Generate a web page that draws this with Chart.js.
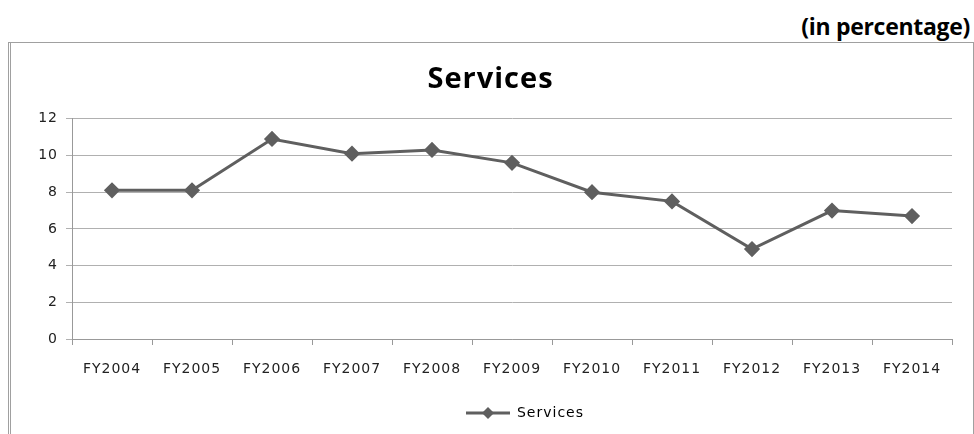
<!DOCTYPE html>
<html>
<head>
<meta charset="utf-8">
<script src="https://cdn.jsdelivr.net/npm/chart.js@4/dist/chart.umd.min.js"></script>
<style>
  body { margin: 0; background: #fff; width: 974px; height: 434px; position: relative; overflow: hidden; }
  #unit { position: absolute; right: 4px; top: 10px; font: bold 23px "Open Sans", sans-serif; letter-spacing: -0.3px; color: #000; }
  #box { position: absolute; left: 8px; top: 42px; width: 962px; height: 400px; border: 1px solid #a0a0a0; border-left: 3px double #a0a0a0; }
  #wrap { position: absolute; left: 0; top: 0; width: 962px; height: 391px; }
</style>
</head>
<body>
<div id="unit">(in percentage)</div>
<div id="box"><div id="wrap"><canvas id="servicesChart"></canvas></div></div>
<script>
const years = ["FY2004", "FY2005", "FY2006", "FY2007", "FY2008", "FY2009", "FY2010", "FY2011", "FY2012", "FY2013", "FY2014"];
const services = [8.1, 8.1, 10.9, 10.1, 10.3, 9.6, 8.0, 7.5, 4.9, 7.0, 6.7];
const yTicks = [0, 2, 4, 6, 8, 10, 12];

const lineColor = "#5f5f5f";
const tickFont = { family: "'DejaVu Sans', sans-serif", size: 14 };
const iconWidth = 113;

// legend swatch: short line with a diamond, sitting at the right of a blank strip
function legendIcon() {
  const c = document.createElement("canvas");
  c.width = iconWidth; c.height = 14;
  const g = c.getContext("2d");
  const x0 = iconWidth - 44;
  g.strokeStyle = lineColor;
  g.lineWidth = 3;
  g.beginPath(); g.moveTo(x0, 7); g.lineTo(iconWidth, 7); g.stroke();
  g.fillStyle = lineColor;
  g.beginPath(); g.moveTo(x0 + 22, 1); g.lineTo(x0 + 28, 7); g.lineTo(x0 + 22, 13); g.lineTo(x0 + 16, 7); g.closePath(); g.fill();
  return c;
}

// slightly wider text spacing for every label drawn on the canvas
const spacing = {
  id: "spacing",
  beforeLayout: (chart) => { chart.ctx.letterSpacing = "1px"; },
  beforeDraw: (chart) => { chart.ctx.letterSpacing = "1px"; }
};

const ctx = document.getElementById("servicesChart").getContext("2d");
new Chart(ctx, {
  type: "line",
  plugins: [spacing],
  data: {
    labels: years,
    datasets: [{
      label: "Services",
      data: services,
      borderColor: lineColor,
      backgroundColor: lineColor,
      borderWidth: 3,
      pointStyle: "rectRot",
      pointRadius: 6,
      pointHoverRadius: 6,
      tension: 0
    }]
  },
  options: {
    responsive: true,
    maintainAspectRatio: false,
    animation: false,
    layout: { padding: { left: 18, right: 21, top: 0, bottom: 4 } },
    plugins: {
      title: {
        display: true,
        text: "Services",
        color: "#000",
        font: { family: "'Open Sans', sans-serif", size: 29, weight: "bold" },
        padding: { top: 19, bottom: 22 }
      },
      legend: {
        position: "bottom",
        labels: {
          color: "#333",
          font: tickFont,
          usePointStyle: true,
          pointStyleWidth: iconWidth,
          generateLabels: (chart) => chart.data.datasets.map((d, i) => ({
            text: d.label,
            pointStyle: legendIcon(),
            fillStyle: lineColor,
            strokeStyle: lineColor,
            datasetIndex: i
          }))
        }
      },
      tooltip: { enabled: false }
    },
    scales: {
      x: {
        offset: true,
        grid: { offset: true, drawOnChartArea: false, drawTicks: true, tickLength: 6, color: "#999" },
        border: { color: "#999", width: 1 },
        ticks: { color: "#222", font: tickFont, padding: 16, maxRotation: 0 },
        afterFit: (s) => { s.height = 57; }
      },
      y: {
        min: 0,
        max: 12,
        afterBuildTicks: (s) => { s.ticks = yTicks.map((v) => ({ value: v })); },
        grid: { color: "#b0b0b0", tickLength: 6, lineWidth: 1 },
        border: { color: "#999", width: 1 },
        ticks: { color: "#222", font: tickFont, padding: 8 },
        afterFit: (s) => { s.width = 43; }
      }
    }
  }
});
</script>
</body>
</html>
